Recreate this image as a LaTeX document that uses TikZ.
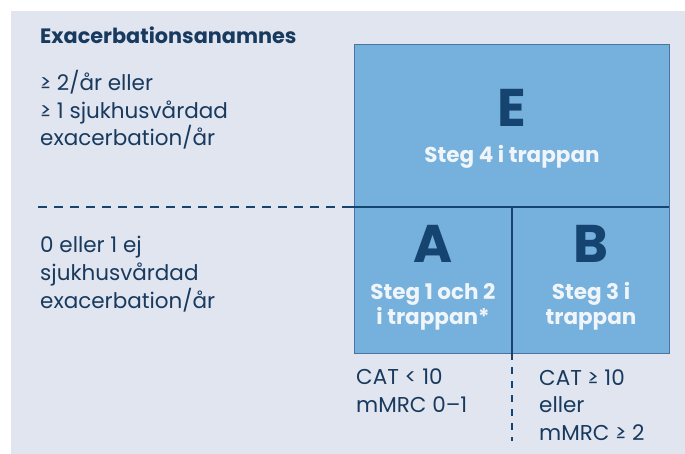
\documentclass[tikz,border=0pt]{standalone}
\usepackage{fontspec}
\setmainfont{Poppins}
\definecolor{bgc}{RGB}{225,229,240}
\definecolor{boxc}{RGB}{118,176,221}
\definecolor{boxline}{RGB}{72,118,160}
\definecolor{navy}{RGB}{22,68,112}
\definecolor{txt}{RGB}{24,58,94}
\definecolor{wtxt}{RGB}{240,245,250}
\tikzset{
  body/.style={anchor=base west, inner sep=0pt, align=left, text=txt,
    font={\fontsize{21.5}{27.5}\selectfont}},
  head/.style={anchor=base west, inner sep=0pt, text=txt,
    font={\fontsize{20.8}{24}\bfseries\selectfont}},
  letter/.style={anchor=base, inner sep=0pt, text=navy,
    font={\fontsize{53}{53}\bfseries\selectfont}},
  steg/.style={anchor=base, inner sep=0pt, align=center, text=wtxt,
    font={\fontsize{21.5}{25}\bfseries\selectfont}},
  region/.style={anchor=north west, inner sep=0pt, fill=boxc, draw=boxline, line width=0.8pt},
  divider/.style={draw=navy, line width=2.4pt},
  dashdiv/.style={draw=navy, line width=2.4pt, dash pattern=on 9pt off 7pt},
}
\begin{document}
\begin{tikzpicture}[x=1pt,y=-1pt]
\useasboundingbox (0,0) rectangle (685,454);
\fill[white] (0,0) rectangle (685,454);
\fill[bgc] (11,11) rectangle (685,454);
% blue region
\node[region, minimum width=315pt, minimum height=309pt] (box) at (354,44) {};
% coordinates for dividers
\coordinate (dl) at (38,207);
\coordinate (dm) at (347,207);
\coordinate (dr) at (669,207);
\coordinate (vt) at (512,207);
\coordinate (vm) at (512,353);
\coordinate (vb) at (512,441);
\draw[dashdiv] (dl) -- (dm);
\draw[divider] (dm) -- (dr);
\draw[divider] (vt) -- (vm);
\draw[dashdiv, dash pattern=on 7pt off 7pt] (vm) -- (vb);
% left texts (base anchor = last line)
\node[head] (h) at (40,44) {Exacerbationsanamnes};
\node[body] (t1) at (40,146) {≥ 2/år eller\\≥ 1 sjukhusvårdad\\exacerbation/år};
\node[body] (t2) at (40,308) {0 eller 1 ej\\sjukhusvårdad\\exacerbation/år};
% letters
\node[letter] (E) at (512,127) {E};
\node[steg] (sE) at (512,163) {Steg 4 i trappan};
\node[letter] (A) at (433,263) {A};
\node[steg] (sA) at (433,324) {Steg 1 och 2\\i trappan*};
\node[letter] (B) at (591,263) {B};
\node[steg] (sB) at (591,324) {Steg 3 i\\trappan};
% bottom texts
\node[body] (c1) at (356,412) {CAT < 10\\mMRC 0–1};
\node[body] (c2) at (539,440) {CAT ≥ 10\\eller\\mMRC ≥ 2};
\end{tikzpicture}
\end{document}
